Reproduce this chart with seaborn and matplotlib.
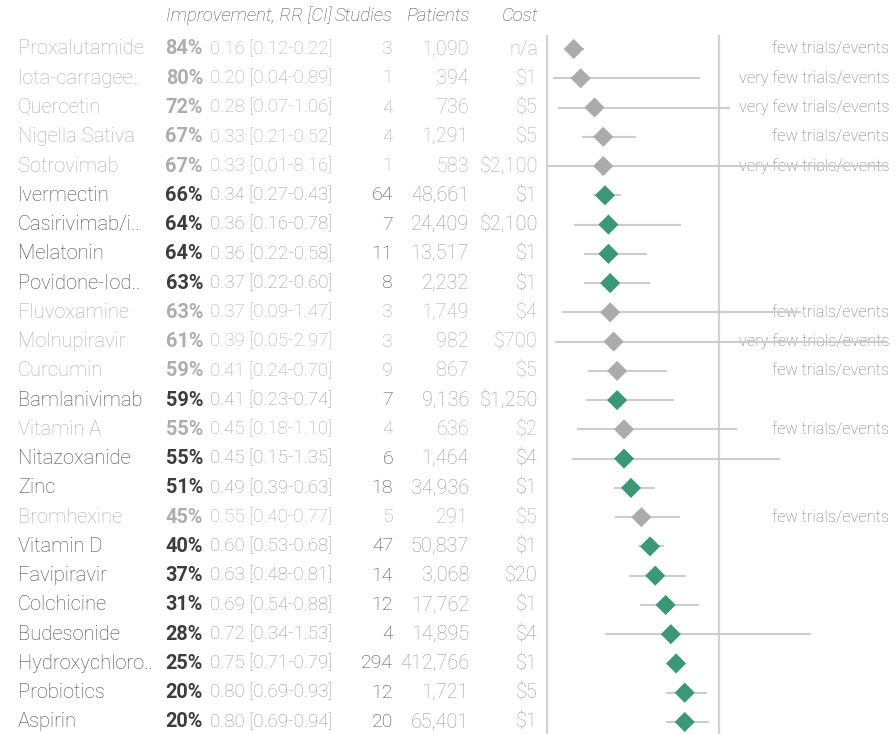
import numpy as np
import pandas as pd
import matplotlib
matplotlib.use("Agg")
import matplotlib.pyplot as plt
import matplotlib.transforms as mtransforms
import seaborn as sns

names = ["Proxalutamide", "Iota-carragee..", "Quercetin", "Nigella Sativa", "Sotrovimab",
         "Ivermectin", "Casirivimab/i..", "Melatonin", "Povidone-Iod..", "Fluvoxamine",
         "Molnupiravir", "Curcumin", "Bamlanivimab", "Vitamin A", "Nitazoxanide", "Zinc",
         "Bromhexine", "Vitamin D", "Favipiravir", "Colchicine", "Budesonide",
         "Hydroxychloro..", "Probiotics", "Aspirin"]
improvement = [84, 80, 72, 67, 67, 66, 64, 64, 63, 63, 61, 59, 59, 55, 55, 51, 45, 40,
               37, 31, 28, 25, 20, 20]
rr = [0.16, 0.20, 0.28, 0.33, 0.33, 0.34, 0.36, 0.36, 0.37, 0.37, 0.39, 0.41, 0.41,
      0.45, 0.45, 0.49, 0.55, 0.60, 0.63, 0.69, 0.72, 0.75, 0.80, 0.80]
ci_low = [0.12, 0.04, 0.07, 0.21, 0.01, 0.27, 0.16, 0.22, 0.22, 0.09, 0.05, 0.24, 0.23,
          0.18, 0.15, 0.39, 0.40, 0.53, 0.48, 0.54, 0.34, 0.71, 0.69, 0.69]
ci_high = [0.22, 0.89, 1.06, 0.52, 8.16, 0.43, 0.78, 0.58, 0.60, 1.47, 2.97, 0.70, 0.74,
           1.10, 1.35, 0.63, 0.77, 0.68, 0.81, 0.88, 1.53, 0.79, 0.93, 0.94]
studies = [3, 1, 4, 4, 1, 64, 7, 11, 8, 3, 3, 9, 7, 4, 6, 18, 5, 47, 14, 12, 4, 294, 12, 20]
patients = [1090, 394, 736, 1291, 583, 48661, 24409, 13517, 2232, 1749, 982, 867, 9136,
            636, 1464, 34936, 291, 50837, 3068, 17762, 14895, 412766, 1721, 65401]
cost = ["n/a", "$1", "$5", "$5", "$2,100", "$1", "$2,100", "$1", "$1", "$4", "$700", "$5",
        "$1,250", "$2", "$4", "$1", "$5", "$1", "$20", "$1", "$4", "$1", "$5", "$1"]
notes = ["few trials/events", "very few trials/events", "very few trials/events",
         "few trials/events", "very few trials/events", "", "", "", "",
         "few trials/events", "very few trials/events", "few trials/events", "",
         "few trials/events", "", "", "few trials/events", "", "", "", "", "", "", ""]
headers = ["Improvement, RR [CI]", "Studies", "Patients", "Cost"]

df = pd.DataFrame({"name": names, "rr": rr, "lo": ci_low, "hi": ci_high,
                   "row": np.arange(len(names))})
df["group"] = ["limited" if n else "main" for n in notes]

sns.set_theme(style="white")
plt.rcParams["font.family"] = ["Roboto", "DejaVu Sans"]

W, H = 896, 734
fig = plt.figure(figsize=(W / 100, H / 100), dpi=100)

# forest panel: RR = 0 at the left rule, RR = 1 at the reference line
x0_px, x1_px = 546, 888
px_per_unit = 173.4
ax = fig.add_axes([x0_px / W, 0, (x1_px - x0_px) / W, 1])
row0_px, row_step = 49, 29.26
ax.set_xlim(0, (x1_px - x0_px) / px_per_unit)
ax.set_ylim((H - row0_px) / row_step, -row0_px / row_step)
ax.axis("off")

top_y = (35 - row0_px) / row_step
bottom_y = (H - row0_px) / row_step
line_col = "#d3d3d3"
ax.vlines([0.003, 1.0], top_y, bottom_y, color=line_col, lw=1.6, zorder=1)

ax.hlines(df["row"], df["lo"], df["hi"], color="#cdcdcd", lw=1.5, zorder=3)
sns.scatterplot(data=df, x="rr", y="row", hue="group",
                palette={"main": "#3b9874", "limited": "#ababab"},
                marker="D", s=105, edgecolor="none", legend=False, ax=ax, zorder=4)

# table columns
tr = mtransforms.blended_transform_factory(fig.transFigure, ax.transData)
dark, mid, light = "#4a4a4a", "#9a9a9a", "#adadad"
for i in range(len(names)):
    limited = bool(notes[i])
    ax.text(18 / W, i, names[i], transform=tr, ha="left", va="center",
            fontsize=14.5, color=light if limited else dark, fontweight="light")
    ax.text(203 / W, i, f"{improvement[i]}%", transform=tr, ha="right", va="center",
            fontsize=14.3, color=light if limited else "#3c3c3c", fontweight="bold")
    ax.text(210 / W, i, f"{rr[i]:.2f} [{ci_low[i]:.2f}-{ci_high[i]:.2f}]", transform=tr,
            ha="left", va="center", fontsize=13.5, color=light if limited else mid,
            fontweight="light")
    ax.text(393 / W, i, f"{studies[i]}", transform=tr, ha="right", va="center",
            fontsize=14, color=light if limited else dark, fontweight="light")
    ax.text(469 / W, i, f"{patients[i]:,}", transform=tr, ha="right", va="center",
            fontsize=14.3, color=light if limited else mid, fontweight="light")
    ax.text(538 / W, i, cost[i], transform=tr, ha="right", va="center",
            fontsize=14.3, color=light if limited else mid, fontweight="light")
    if limited:
        ax.text(889 / W, i, notes[i], transform=tr, ha="right", va="center",
                fontsize=11.8, color="#7a7a7a", fontweight="light", zorder=2)

header_y = (16 - row0_px) / row_step
for label, xr in zip(headers, [332, 393, 470, 538]):
    ax.text(xr / W, header_y, label, transform=tr, ha="right", va="center",
            fontsize=13.4, color="#555555", style="italic", fontweight="light")

fig.savefig("out.png", dpi=100, facecolor="white")
